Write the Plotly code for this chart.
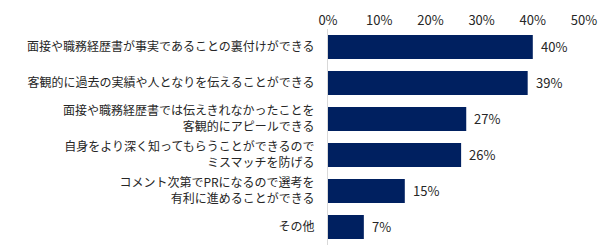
import plotly.graph_objects as go

categories = [
    "面接や職務経歴書が事実であることの裏付けができる",
    "客観的に過去の実績や人となりを伝えることができる",
    "面接や職務経歴書では伝えきれなかったことを<br>客観的にアピールできる",
    "自身をより深く知ってもらうことができるので<br>ミスマッチを防げる",
    "コメント次第でPRになるので選考を<br>有利に進めることができる",
    "その他",
]
values = [40, 39, 27, 26, 15, 7]
tick_vals = [0, 10, 20, 30, 40, 50]
tick_text = ["0%", "10%", "20%", "30%", "40%", "50%"]

font_family = "Noto Sans CJK JP"
bar_color = "#002060"

fig = go.Figure()
fig.add_trace(go.Bar(
    x=values,
    y=categories,
    orientation="h",
    marker=dict(color=bar_color, line=dict(width=0)),
    width=0.67,
    hoverinfo="skip",
))

for c, v in zip(categories, values):
    fig.add_annotation(
        x=v, y=c, text=f"{v}%", showarrow=False,
        xanchor="left", yanchor="middle", xshift=6, yshift=1,
        font=dict(family=font_family, size=13, color="#262626"),
    )

fig.update_layout(
    width=605, height=246,
    margin=dict(l=328, r=21, t=29, b=1),
    paper_bgcolor="white", plot_bgcolor="white",
    showlegend=False,
    font=dict(family=font_family, size=12, color="#262626"),
    xaxis=dict(
        side="top", range=[0, 50], tickvals=tick_vals, ticktext=tick_text,
        showgrid=False, zeroline=False, showline=False, ticks="",
        tickfont=dict(family=font_family, size=13, color="#262626"),
        automargin=False, fixedrange=True,
    ),
    yaxis=dict(
        autorange="reversed", showgrid=False, zeroline=False,
        showline=True, linecolor="#d9d9d9", linewidth=1, ticks="",
        ticklabelstandoff=10,
        tickfont=dict(family=font_family, size=12, color="#262626"),
        automargin=False, fixedrange=True,
    ),
    bargap=0.33,
)

fig.write_html(
    "out.html",
    config={"displayModeBar": False},
    post_script="document.body.style.margin='0';document.body.style.padding='0';",
)
